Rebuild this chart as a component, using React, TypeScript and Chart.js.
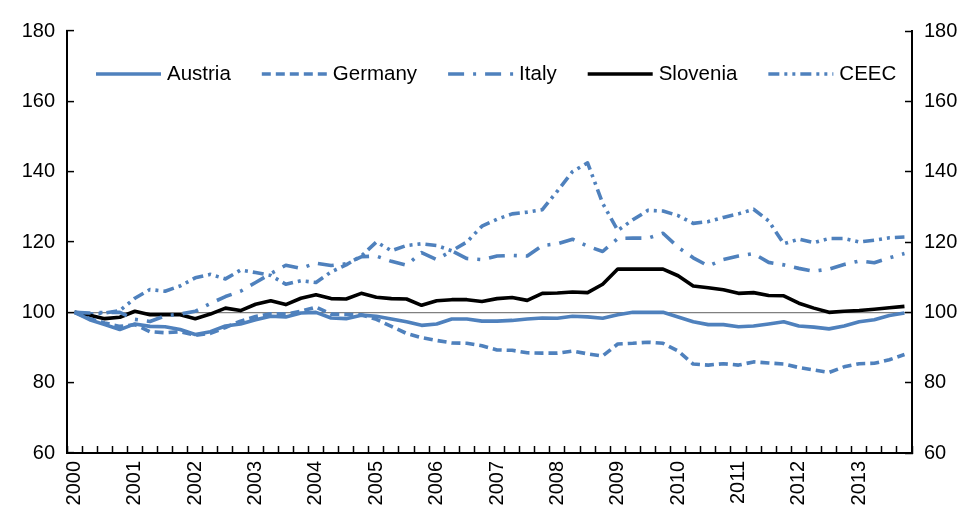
import React, { useEffect, useRef } from 'react';
import { Chart, registerables } from 'chart.js';

Chart.register(...registerables);

const FONT = '"Liberation Sans", Arial, sans-serif';

const years = ['2000', '2001', '2002', '2003', '2004', '2005', '2006', '2007', '2008', '2009', '2010', '2011', '2012', '2013'];
const quarterNames = ['Q1', 'Q2', 'Q3', 'Q4'];
const categories: string[] = years.flatMap((y) => quarterNames.map((q) => y + q));

const yTickMin = 60;
const yTickMax = 180;
const yTickStep = 20;
const referenceValue = 100;

const austria = [100, 97.9, 96.5, 95.1, 96.7, 96.0, 95.9, 95.1, 93.7, 94.5, 96.1, 96.7, 97.9, 98.9, 98.7, 99.8, 100.0, 98.4, 98.2, 99.2, 98.9, 98.1, 97.3, 96.3, 96.7, 98.1, 98.1, 97.5, 97.5, 97.7, 98.1, 98.4, 98.3, 98.9, 98.7, 98.3, 99.3, 100.0, 100.0, 100.0, 98.7, 97.3, 96.5, 96.5, 95.9, 96.1, 96.7, 97.3, 96.1, 95.8, 95.3, 96.1, 97.3, 97.9, 99.1, 99.8];
const germany = [100, 98.2, 97.0, 96.0, 96.5, 94.5, 94.2, 94.5, 93.5, 94.0, 95.7, 97.5, 98.8, 99.6, 99.5, 100.3, 101.5, 99.5, 99.4, 99.3, 98.0, 96.0, 94.0, 92.8, 92.0, 91.3, 91.2, 90.5, 89.3, 89.2, 88.5, 88.4, 88.4, 89.0, 88.2, 87.6, 91.0, 91.2, 91.5, 91.2, 89.0, 85.3, 85.0, 85.4, 85.0, 85.9, 85.6, 85.3, 84.3, 83.6, 82.9, 84.5, 85.4, 85.5, 86.5, 88.0];
const italy = [100, 99.8, 100, 100, 98, 97.4, 99, 99.5, 100.3, 102.5, 104.5, 106, 108.5, 111, 113.4, 112.5, 114, 113.3, 113.8, 115.8, 116, 114.5, 113.4, 117, 115, 117.5, 115.3, 115, 116, 116.2, 116, 119, 119.5, 120.8, 118.8, 117.3, 121, 121.1, 121.1, 122.5, 118.5, 115.5, 113.2, 115, 116, 116.7, 114.2, 113.5, 112.5, 111.7, 112.3, 113.6, 114.6, 114.1, 115.5, 116.7];
const slovenia = [100, 99.2, 98.2, 98.6, 100.3, 99.3, 99.3, 99.3, 98.2, 99.5, 101.2, 100.5, 102.3, 103.3, 102.2, 104, 105, 103.9, 103.8, 105.4, 104.3, 103.9, 103.8, 102, 103.3, 103.6, 103.6, 103.1, 103.9, 104.2, 103.4, 105.4, 105.5, 105.8, 105.6, 108, 112.3, 112.3, 112.3, 112.3, 110.4, 107.5, 107, 106.4, 105.4, 105.6, 104.8, 104.7, 102.6, 101.2, 100, 100.3, 100.5, 100.9, 101.3, 101.7];
const ceec = [100, 99.5, 99.8, 100.5, 104, 106.5, 106, 107.5, 109.8, 110.8, 109.5, 112, 111.3, 110.5, 108, 109, 108.5, 111.5, 113.5, 116, 120, 117.5, 119, 119.5, 119, 117.5, 120, 124.5, 126.5, 128, 128.5, 129.2, 134.5, 140, 142.5, 131, 123.3, 126.3, 129, 128.8, 127.5, 125.3, 125.8, 127, 128, 129.3, 126, 119.5, 120.8, 119.8, 121, 121, 120, 120.5, 121.2, 121.4];

const BLUE = '#4F81BD';

const insideLegend = {
  id: 'insideLegend',
  afterDatasetsDraw(chart: any) {
    const { ctx, chartArea } = chart;
    ctx.save();
    ctx.font = `20.5px ${FONT}`;
    ctx.textBaseline = 'middle';
    ctx.textAlign = 'left';
    let x = chartArea.left + 29;
    const y = chartArea.top + 43;
    chart.data.datasets.forEach((ds: any) => {
      ctx.beginPath();
      ctx.setLineDash(ds.borderDash || []);
      ctx.lineWidth = ds.borderWidth;
      ctx.strokeStyle = ds.borderColor;
      ctx.lineCap = 'butt';
      ctx.moveTo(x, y);
      ctx.lineTo(x + 65, y);
      ctx.stroke();
      ctx.setLineDash([]);
      ctx.fillStyle = '#000';
      ctx.fillText(ds.label, x + 71, y);
      x += 71 + ctx.measureText(ds.label).width + 31;
    });
    ctx.restore();
  },
};

export default function App() {
  const canvasRef = useRef<HTMLCanvasElement | null>(null);

  useEffect(() => {
    if (!canvasRef.current) return;
    Chart.defaults.font.family = FONT;
    Chart.defaults.color = '#000';
    const mk = (label: string, data: number[], color: string, dash: number[]) => ({
      label,
      data,
      borderColor: color,
      backgroundColor: color,
      borderWidth: 3.6,
      borderDash: dash,
      pointRadius: 0,
      pointHoverRadius: 0,
      tension: 0,
      fill: false,
      borderJoinStyle: 'round' as const,
      yAxisID: 'y',
    });
    const chart = new Chart(canvasRef.current, {
      type: 'line',
      data: {
        labels: categories,
        datasets: [
          mk('Austria', austria, BLUE, []),
          mk('Germany', germany, BLUE, [9, 5]),
          mk('Italy', italy, BLUE, [16, 9, 3, 9]),
          mk('Slovenia', slovenia, '#000000', []),
          mk('CEEC', ceec, BLUE, [11, 5, 3, 5, 3, 5]),
        ],
      },
      options: {
        animation: false,
        responsive: false,
        maintainAspectRatio: false,
        layout: { padding: { top: 27, left: 0, right: 0, bottom: 0 } },
        plugins: {
          legend: { display: false },
          tooltip: { enabled: false },
        },
        scales: {
          x: {
            type: 'category',
            offset: true,
            grid: {
              offset: true,
              drawOnChartArea: false,
              drawTicks: true,
              tickLength: -7,
              tickColor: '#000',
              tickWidth: 1.5,
              color: '#000',
            },
            border: { display: true, color: '#000', width: 2 },
            ticks: {
              autoSkip: false,
              maxRotation: 90,
              minRotation: 90,
              padding: 15,
              color: '#000',
              font: { size: 20, family: FONT },
              callback: (_v: any, idx: number) => (idx % 4 === 0 ? categories[idx].slice(0, 4) : ''),
            },
            afterFit: (scale: any) => {
              scale.height = 53;
            },
          },
          y: {
            position: 'left',
            min: yTickMin,
            max: yTickMax,
            ticks: { stepSize: yTickStep, padding: 19, color: '#000', font: { size: 20, family: FONT } },
            grid: {
              color: (c: any) => (c.tick && c.tick.value === referenceValue ? '#808080' : 'rgba(0,0,0,0)'),
              lineWidth: 1.2,
              tickLength: -7,
              tickColor: '#000',
              tickWidth: 1.5,
            },
            border: { display: true, color: '#000', width: 2 },
            afterFit: (scale: any) => {
              scale.width = 67;
            },
          },
          y2: {
            position: 'right',
            min: yTickMin,
            max: yTickMax,
            ticks: { stepSize: yTickStep, padding: 19, color: '#000', font: { size: 20, family: FONT } },
            grid: {
              drawOnChartArea: false,
              tickLength: -7,
              tickColor: '#000',
              tickWidth: 1.5,
            },
            border: { display: true, color: '#000', width: 2 },
            afterFit: (scale: any) => {
              scale.width = 59;
            },
          },
        },
      },
      plugins: [insideLegend],
    });
    return () => chart.destroy();
  }, []);

  return (
    <div style={{ position: 'fixed', left: 0, top: 0, width: 971, height: 506, background: '#fff' }}>
      <canvas ref={canvasRef} width={971} height={506} style={{ width: 971, height: 506 }} />
    </div>
  );
}
